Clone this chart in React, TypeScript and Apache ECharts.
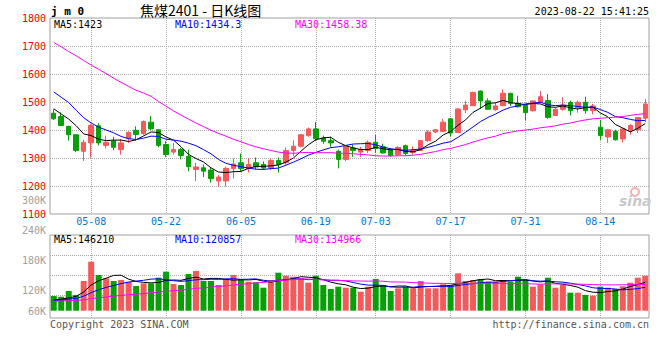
import React, { useEffect, useRef } from 'react';
import * as echarts from 'echarts';

const DATES = ['04-26','04-27','04-28','05-04','05-05','05-08','05-09','05-10','05-11','05-12','05-15','05-16','05-17','05-18','05-19','05-22','05-23','05-24','05-25','05-26','05-29','05-30','05-31','06-01','06-02','06-05','06-06','06-07','06-08','06-09','06-12','06-13','06-14','06-15','06-16','06-19','06-20','06-21','06-26','06-27','06-28','06-29','06-30','07-03','07-04','07-05','07-06','07-07','07-10','07-11','07-12','07-13','07-14','07-17','07-18','07-19','07-20','07-21','07-24','07-25','07-26','07-27','07-28','07-31','08-01','08-02','08-03','08-04','08-07','08-08','08-09','08-10','08-11','08-14','08-15','08-16','08-17','08-18','08-21','08-22'];

const X_TICK_LABELS = ['05-08','05-22','06-05','06-19','07-03','07-17','07-31','08-14'];
const VOL_TICK_LABELS = ['60K','120K','180K','240K','300K'];

const OPEN = [1460,1448,1413,1383,1324,1354,1415,1345,1361,1330,1369,1399,1387,1428,1401,1348,1321,1330,1306,1259,1265,1257,1218,1218,1262,1283,1262,1283,1277,1264,1291,1283,1327,1342,1380,1404,1371,1362,1324,1295,1336,1321,1327,1356,1340,1329,1312,1344,1320,1327,1362,1393,1395,1440,1391,1472,1487,1539,1504,1472,1487,1531,1495,1489,1469,1498,1505,1452,1474,1498,1480,1499,1469,1410,1375,1395,1368,1399,1401,1442];
const CLOSE = [1440,1416,1383,1327,1356,1416,1354,1356,1338,1354,1391,1384,1430,1404,1345,1312,1330,1309,1269,1268,1253,1226,1232,1263,1279,1262,1277,1268,1264,1291,1277,1327,1342,1383,1404,1369,1360,1354,1295,1342,1327,1330,1356,1334,1318,1309,1338,1316,1327,1362,1393,1401,1428,1389,1475,1489,1534,1504,1474,1486,1531,1495,1483,1462,1504,1519,1445,1474,1489,1469,1499,1469,1486,1380,1401,1365,1404,1416,1445,1493];
const LOW = [1436,1415,1362,1321,1289,1301,1345,1334,1328,1312,1354,1362,1383,1399,1338,1303,1312,1295,1253,1218,1232,1212,1198,1198,1227,1253,1248,1259,1259,1257,1248,1276,1306,1338,1376,1360,1351,1340,1263,1289,1304,1304,1318,1318,1316,1304,1309,1309,1312,1325,1358,1389,1393,1377,1389,1460,1486,1475,1472,1469,1485,1486,1480,1434,1466,1495,1440,1450,1469,1452,1462,1458,1456,1365,1354,1362,1356,1383,1389,1428];
const HIGH = [1474,1463,1415,1385,1365,1422,1424,1380,1376,1368,1395,1413,1434,1450,1403,1360,1354,1336,1330,1283,1277,1265,1239,1269,1298,1316,1300,1302,1288,1298,1302,1338,1363,1385,1409,1428,1380,1376,1330,1345,1348,1340,1363,1383,1351,1336,1342,1348,1342,1363,1399,1404,1440,1440,1478,1505,1537,1541,1513,1498,1545,1533,1522,1490,1505,1539,1528,1478,1517,1505,1505,1519,1493,1436,1401,1401,1404,1422,1445,1511];

const MA5 = [1476,1457,1439,1415,1386,1380,1367,1362,1364,1364,1359,1365,1379,1393,1391,1375,1364,1340,1313,1298,1286,1265,1250,1248,1251,1252,1263,1270,1270,1272,1275,1285,1300,1324,1347,1365,1372,1374,1356,1344,1336,1330,1330,1338,1333,1329,1331,1323,1322,1330,1347,1360,1382,1395,1417,1436,1463,1478,1495,1497,1506,1498,1494,1491,1495,1493,1483,1481,1486,1479,1475,1480,1482,1461,1447,1420,1407,1393,1406,1423];
const MA10 = [1536,1517,1498,1470,1444,1425,1410,1400,1390,1377,1369,1366,1371,1378,1377,1367,1364,1360,1353,1344,1330,1315,1295,1281,1274,1269,1264,1260,1259,1262,1264,1274,1285,1297,1310,1320,1329,1337,1340,1345,1350,1351,1352,1347,1339,1333,1330,1327,1330,1332,1338,1345,1353,1358,1374,1392,1411,1430,1445,1457,1471,1481,1486,1493,1496,1499,1490,1487,1489,1487,1484,1481,1482,1473,1463,1448,1444,1438,1433,1434.3];
const MA30 = [1713,1697,1680,1665,1648,1632,1617,1601,1585,1570,1556,1542,1532,1520,1502,1485,1468,1453,1439,1425,1412,1399,1388,1378,1367,1358,1348,1340,1333,1327,1321,1318,1317,1319,1320,1319,1319,1319,1317,1317,1315,1313,1311,1308,1307,1307,1308,1308,1310,1313,1318,1323,1330,1334,1341,1348,1357,1365,1372,1378,1387,1392,1397,1400,1403,1408,1411,1415,1421,1425,1431,1436,1440,1442,1444,1446,1448,1452,1456,1458.38];

const VOLUME = [75700,72100,101500,80900,153000,252400,183900,166900,153000,158100,149400,127200,141100,141100,170000,200900,137500,132400,189000,204500,153000,153000,132400,163300,183900,163300,149400,146300,118500,158100,195700,180300,175100,166900,144200,180300,132400,111800,123600,118500,118500,97900,123600,163300,132400,101500,115400,123600,115400,153000,115400,115400,136000,132400,192600,153000,158100,163300,149400,149400,158100,149400,175100,158100,123600,136000,170000,118500,132400,92700,92700,80900,77300,123600,118500,111800,125700,144200,170000,180300];
const VMA5 = [55000,59000,66000,74000,96600,132000,154300,167400,181800,182900,162300,150900,145800,143400,145800,156100,158100,156400,166000,172900,163300,166400,166400,161200,157100,159200,158500,161200,152300,147100,153600,159800,165500,175200,172400,169400,159800,147100,138500,133300,121000,114100,116400,124400,127100,123700,127200,127200,117700,121800,124600,124600,127000,130400,138400,145900,154400,159900,163300,154600,155700,153900,156300,158000,152900,148400,152600,141200,136100,129900,121300,103400,95200,93400,98600,102400,111400,124800,134000,146210];
const VMA10 = [52000,55000,60000,63000,75000,93000,108000,120000,130000,139800,147100,152600,156600,162600,164300,159200,154500,151100,154700,159300,159700,162300,161400,163600,165000,161200,162400,163800,156800,152100,156400,159100,163400,163800,159800,161500,159800,156300,156800,152900,145200,136900,131800,131400,130200,122400,120700,121800,121000,124500,124200,125900,127100,124100,130100,135200,139500,143500,146900,146500,150800,154200,158100,160700,153800,152100,153200,148800,147100,141400,134900,128000,118200,114800,114300,111800,107400,110000,113700,120857];
const VMA30 = [49000,50000,52000,53000,56000,62000,67000,71000,75000,79000,82000,85000,88000,92000,96000,100000,103000,106000,110000,115000,118000,122000,125000,128000,132000,136000,139000,143000,146000,150400,154400,158000,160500,163300,163000,160600,158900,157100,156100,154800,153700,152800,152200,152900,151700,148400,147600,147300,144900,143200,141900,140600,140800,139700,140000,139700,140000,140500,141600,141300,140000,139000,139000,138700,138000,136500,137800,138000,138300,137500,136600,136000,134500,133200,132700,133000,133400,134100,135900,134966];

const PRICE_MA_LABELS = ['MA5:1423', 'MA10:1434.3', 'MA30:1458.38'];
const VOL_MA_LABELS = ['MA5:146210', 'MA10:120857', 'MA30:134966'];
const TITLE_CODE = 'j m 0';
const TITLE_NAME = '焦煤2401 - 日K线图';
const TIMESTAMP = '2023-08-22 15:41:25';
const COPYRIGHT = 'Copyright 2023 SINA.COM';
const URL_TEXT = 'http://finance.sina.com.cn';

const MONO = '"DejaVu Sans Mono", "Liberation Mono", monospace';
const UP = '#f45a5a';
const DOWN = '#07a007';
const MA_COLORS = ['#000000', '#0000ff', '#ff00ff'];
const MA_X = [54, 175, 295];

export default function App() {
  const ref = useRef<HTMLDivElement>(null);

  useEffect(() => {
    if (!ref.current) return;
    const chart = echarts.init(ref.current, null, { renderer: 'svg' });
    const tickSet = new Set(X_TICK_LABELS);
    const showTick = (idx: number) => tickSet.has(DATES[idx]);
    const dotted = { color: '#ababab', width: 1, type: [1, 1] as any };
    const isUp = OPEN.map((o, i) => CLOSE[i] >= o);

    const maTitles = (labels: string[], top: number) =>
      labels.map((t, i) => ({
        text: t,
        left: MA_X[i],
        top,
        padding: 0,
        textStyle: { fontFamily: MONO, fontSize: 10, fontWeight: 'normal', color: MA_COLORS[i], lineHeight: 10 },
      }));

    const option: any = {
      animation: false,
      backgroundColor: '#ffffff',
      title: [
        { text: TITLE_CODE, left: 51, top: 5, padding: 0, textStyle: { fontFamily: MONO, fontSize: 11, fontWeight: 'bold', color: '#000', lineHeight: 12 } },
        { text: TITLE_NAME, left: 140, top: 3, padding: 0, textStyle: { fontFamily: '"Noto Sans CJK SC", sans-serif', fontSize: 14, fontWeight: 'normal', color: '#000', lineHeight: 14 } },
        { text: TIMESTAMP, right: 11, top: 6, padding: 0, textStyle: { fontFamily: MONO, fontSize: 10, fontWeight: 'normal', color: '#000', lineHeight: 10 } },
        ...maTitles(PRICE_MA_LABELS, 19),
        ...maTitles(VOL_MA_LABELS, 234),
        { text: COPYRIGHT, left: 50, top: 319, padding: 0, textStyle: { fontFamily: MONO, fontSize: 10, fontWeight: 'normal', color: '#555', lineHeight: 10 } },
        { text: URL_TEXT, right: 11, top: 319, padding: 0, textStyle: { fontFamily: MONO, fontSize: 10, fontWeight: 'normal', color: '#555', lineHeight: 10 } },
      ],
      graphic: [
        { type: 'ring', shape: { cx: 635, cy: 192, r: 5, r0: 3 }, style: { fill: '#f2b4b4' }, z: 1 },
        { type: 'text', x: 619, y: 194, style: { text: 'sina', font: 'italic bold 14px "DejaVu Sans", sans-serif', fill: '#c9c9c9' }, z: 1 },
      ],
      grid: [
        { left: 50, right: 11, top: 18, height: 196, show: true, borderColor: '#a0a0a0', borderWidth: 1, backgroundColor: 'transparent' },
        { left: 50, right: 11, top: 235, height: 83, show: true, borderColor: '#a0a0a0', borderWidth: 1, backgroundColor: 'transparent' },
        { left: 50, right: 11, top: 235, height: 80 },
        { left: 50, right: 11, top: 200, height: 120 },
      ],
      xAxis: [
        {
          type: 'category', gridIndex: 0, data: DATES, boundaryGap: true,
          axisLine: { show: false }, axisTick: { show: false },
          axisLabel: { interval: (i: number) => showTick(i), color: '#0078d7', fontFamily: MONO, fontSize: 10, margin: 2 },
          splitLine: { show: true, interval: (i: number) => showTick(i), alignWithLabel: true, lineStyle: dotted },
        },
        {
          type: 'category', gridIndex: 1, data: DATES, boundaryGap: true,
          axisLine: { show: false }, axisTick: { show: false }, axisLabel: { show: false },
          splitLine: { show: true, interval: (i: number) => showTick(i), alignWithLabel: true, lineStyle: dotted },
        },
        { type: 'value', gridIndex: 2, show: false },
        { type: 'value', gridIndex: 3, show: false },
      ],
      yAxis: [
        {
          type: 'value', gridIndex: 0, min: 1100, max: 1800, interval: 100,
          axisLine: { show: false }, axisTick: { show: false },
          axisLabel: { color: '#ee0000', fontFamily: MONO, fontSize: 10, margin: 4, formatter: (v: number) => String(v) },
          splitLine: { show: true, lineStyle: dotted, showMinLine: false, showMaxLine: false },
        },
        { type: 'value', gridIndex: 1, min: -37600, max: 389900, show: false, splitLine: { show: false } },
        {
          type: 'value', gridIndex: 2, min: 0, max: 4, interval: 1,
          axisLine: { show: false }, axisTick: { show: false }, axisLabel: { show: false },
          splitLine: { show: true, lineStyle: dotted, showMinLine: false, showMaxLine: false },
        },
        {
          type: 'value', gridIndex: 3, min: 0, max: 4, interval: 1,
          axisLine: { show: false }, axisTick: { show: false }, splitLine: { show: false },
          axisLabel: {
            customValues: [0.3, 1, 2, 3, 4],
            formatter: (v: number) => VOL_TICK_LABELS[Math.round(v)],
            color: '#a0a0a0', fontFamily: MONO, fontSize: 10, margin: 4,
          },
        },
      ],
      series: [
        {
          type: 'candlestick', xAxisIndex: 0, yAxisIndex: 0, barWidth: 5,
          data: OPEN.map((o, i) => [o, CLOSE[i], LOW[i], HIGH[i]]),
          itemStyle: { color: UP, color0: DOWN, borderColor: UP, borderColor0: DOWN, borderWidth: 1 },
        },
        ...[MA5, MA10, MA30].map((d, k) => ({
          type: 'line', xAxisIndex: 0, yAxisIndex: 0, data: d, symbol: 'none', silent: true,
          lineStyle: { color: MA_COLORS[k], width: 1 },
        })),
        {
          type: 'bar', xAxisIndex: 1, yAxisIndex: 1, barWidth: 6,
          data: VOLUME.map((v, i) => ({ value: v, itemStyle: { color: isUp[i] ? UP : DOWN } })),
        },
        ...[VMA5, VMA10, VMA30].map((d, k) => ({
          type: 'line', xAxisIndex: 1, yAxisIndex: 1, data: d, symbol: 'none', silent: true,
          lineStyle: { color: MA_COLORS[k], width: 1 },
        })),
      ],
    };
    chart.setOption(option);
    return () => chart.dispose();
  }, []);

  return (
    <div
      ref={ref}
      style={{ position: 'fixed', left: 0, top: 0, width: 660, height: 360, background: '#fff' }}
    />
  );
}
